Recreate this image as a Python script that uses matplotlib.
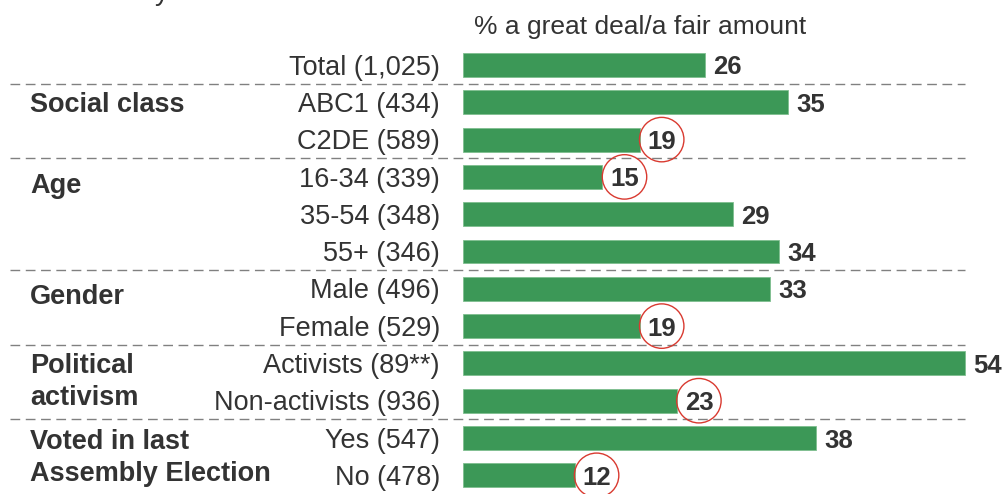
import matplotlib
matplotlib.use('Agg')
import matplotlib.pyplot as plt

plt.rcParams['font.family'] = ['Liberation Sans', 'DejaVu Sans']

# data
categories = ['Total (1,025)', 'ABC1 (434)', 'C2DE (589)', '16-34 (339)', '35-54 (348)',
              '55+ (346)', 'Male (496)', 'Female (529)', 'Activists (89**)',
              'Non-activists (936)', 'Yes (547)', 'No (478)']
values = [26, 35, 19, 15, 29, 34, 33, 19, 54, 23, 38, 12]
circled = [False, False, True, True, False, False, False, True, False, True, False, True]
group_labels = ['Social class', 'Age', 'Gender', 'Political', 'activism',
                'Voted in last', 'Assembly Election']
group_rows = [1.0, 3.16, 6.15, 7.99, 8.86, 10.03, 10.9]
separators = [0.5, 2.5, 5.5, 7.5, 9.5]
header = '% a great deal/a fair amount'

BAR = '#3c9857'
TXT = '#333333'
RED = '#d93a30'

fig = plt.figure(figsize=(10.03, 4.94), dpi=100)
ax = fig.add_axes([0, 0, 1, 1])
px = 9.3      # pixels per percentage point
row = 37.3    # pixels per row
x0 = 463
ax.set_xlim(-x0 / px, (1003 - x0) / px)
ax.set_ylim((494 - 65) / row, -65 / row)
ax.axis('off')

cap = 9.7 / row  # half cap height, in rows

ypos = list(range(len(values)))
ax.barh(ypos, values, height=0.64, color=BAR, edgecolor='#7fbf8f', linewidth=0.6)

for i, (cat, v) in enumerate(zip(categories, values)):
    ax.text(-23 / px, i + cap, cat, ha='right', va='baseline', fontsize=19.5, color=TXT)
    ax.text(v + 8 / px, i + 9.5 / row, str(v), ha='left', va='baseline', fontsize=18.5,
            fontweight='bold', color=TXT)
    if circled[i]:
        ax.scatter([v + 22 / px], [i], s=32 ** 2, facecolors='none',
                   edgecolors=RED, linewidths=1.0, zorder=5)

for g, r in zip(group_labels, group_rows):
    ax.text((30 - x0) / px, r + cap, g, ha='left', va='baseline', fontsize=19.5,
            fontweight='bold', color=TXT)

for s in separators:
    ax.hlines(s, (10 - x0) / px, max(values), colors='#808080', linewidth=1.0,
              linestyles=(0, (7, 4)))

ax.text((474 - x0) / px, (24 - 65) / row + cap, header, ha='left', va='baseline',
        fontsize=19, color=TXT)

# cut-off title remnant at the top edge
fig.text(155 / 1003, 1.0, 'y', ha='left', va='baseline', fontsize=20, color=TXT)

fig.savefig('out.png', dpi=100)
